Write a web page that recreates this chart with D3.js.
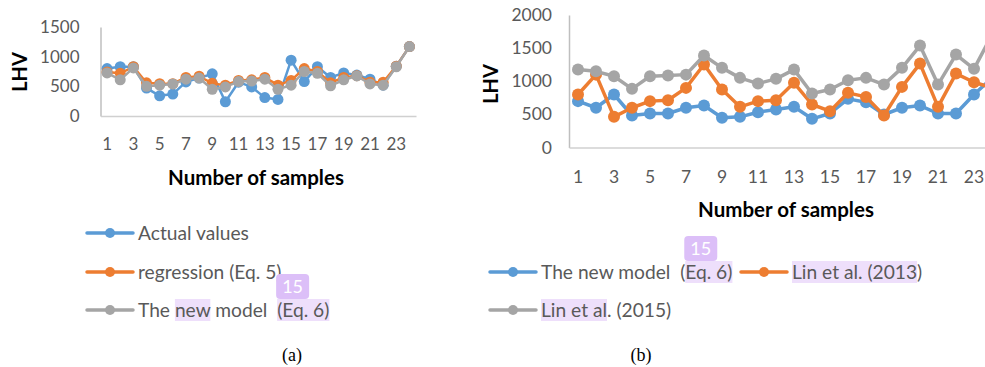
<!DOCTYPE html>
<html><head><meta charset="utf-8">
<script src="https://cdn.jsdelivr.net/npm/d3@7"></script>
<style>
html,body{margin:0;padding:0;background:#fff;overflow:hidden}
svg{display:block}
</style></head><body>
<svg id="fig" width="985" height="367"></svg>
<script>
// sample numbers on the category axis
const samples = d3.range(1, 25);
const sampleTickLabels = samples.filter(d => d % 2 === 1);

// panel (a): LHV values
const actualValues   = [800, 830, 830, 470, 340, 370, 575, 640, 710, 240, 570, 490, 310, 280, 940, 580, 830, 650, 725, 690, 620, 520, 840, 1170];
const regressionEq5  = [740, 720, 830, 560, 545, 545, 650, 670, 550, 520, 600, 610, 650, 520, 600, 800, 750, 560, 650, 680, 570, 570, 840, 1170];
const newModelEq6a   = [725, 610, 810, 500, 520, 540, 620, 640, 450, 490, 580, 590, 620, 450, 520, 750, 720, 510, 610, 675, 540, 520, 830, 1170];
const yTicksA = [0, 500, 1000, 1500];

// panel (b): LHV values
const newModelEq6b = [700, 600, 800, 483, 513, 513, 600, 633, 448, 463, 533, 573, 614, 433, 513, 734, 684, 498, 600, 633, 513, 513, 800, 1050];
const lin2013      = [800, 1100, 463, 600, 700, 713, 900, 1252, 875, 614, 700, 713, 976, 649, 548, 825, 764, 483, 915, 1267, 614, 1116, 985, 900];
const lin2015      = [1176, 1150, 1075, 885, 1075, 1086, 1100, 1388, 1202, 1051, 965, 1036, 1176, 814, 875, 1015, 1051, 950, 1202, 1538, 950, 1403, 1187, 1700];
const yTicksB = [0, 500, 1000, 1500, 2000];

const BLUE = "#5b9bd5", ORANGE = "#ed7d31", GRAY = "#a5a5a5";
const TXT = "#595959";
const HL = "#eedffb", BADGE = "#dcbff8";
const SANS = "Lato, 'Open Sans', sans-serif";

const svg = d3.select("#fig").style("font-family", SANS);

function drawPanel(p) {
  const g = svg.append("g");
  const x = d3.scaleBand().domain(samples).range(p.xRange);
  const cx = d => x(d) + x.bandwidth() / 2;
  const y = d3.scaleLinear().domain(p.yDomain).range(p.yRange);

  // y axis
  g.append("g")
    .attr("transform", `translate(${p.xRange[0]},0)`)
    .call(d3.axisLeft(y).tickValues(p.yTicks).tickFormat(d3.format("d")).tickSize(0).tickPadding(p.yPad))
    .call(a => a.select(".domain").attr("stroke", "#bfbfbf").attr("stroke-width", 1.5))
    .call(a => a.selectAll("text").attr("fill", TXT).attr("font-size", p.tickSize).style("font-family", SANS));

  // x axis
  g.append("g")
    .attr("transform", `translate(0,${p.yRange[0]})`)
    .call(d3.axisBottom(x).tickValues(sampleTickLabels).tickSize(0))
    .call(a => a.select(".domain").attr("stroke", "#d0d0d0").attr("stroke-width", 1.5))
    .call(a => a.selectAll("text").attr("fill", TXT).attr("font-size", p.tickSize)
      .style("font-family", SANS).attr("y", p.xLabelOffset).attr("dy", "0.35em"));

  // series
  const line = d3.line().x((d, i) => cx(samples[i])).y(d => y(d));
  p.series.forEach(s => {
    g.append("path").datum(s.values)
      .attr("fill", "none").attr("stroke", s.color)
      .attr("stroke-width", p.lineWidth).attr("stroke-linejoin", "round")
      .attr("d", line);
    g.selectAll(null).data(s.values).join("circle")
      .attr("cx", (d, i) => cx(samples[i])).attr("cy", d => y(d))
      .attr("r", p.r).attr("fill", s.color);
  });

  // axis titles
  g.append("text").attr("x", p.xTitle[0]).attr("y", p.xTitle[1]).attr("dy", "0.35em")
    .attr("text-anchor", "middle").attr("font-weight", "bold").attr("font-size", 20.5)
    .attr("fill", "#000").text("Number of samples");
  g.append("text").attr("transform", `translate(${p.yTitle[0]},${p.yTitle[1]}) rotate(-90)`)
    .attr("dy", "0.35em").attr("text-anchor", "middle").attr("font-weight", "bold")
    .attr("font-size", 20).attr("fill", "#000").text("LHV");
}

drawPanel({
  xRange: [100.5, 416], yDomain: [0, 1500], yRange: [116, 27], yTicks: yTicksA,
  yPad: 21, tickSize: 17, xLabelOffset: 28, lineWidth: 2.5, r: 5.5,
  xTitle: [256, 178], yTitle: [20, 72],
  series: [
    {values: actualValues, color: BLUE},
    {values: regressionEq5, color: ORANGE},
    {values: newModelEq6a, color: GRAY}
  ]
});

drawPanel({
  xRange: [569, 1001], yDomain: [0, 2000], yRange: [147.5, 15], yTicks: yTicksB,
  yPad: 17, tickSize: 17.5, xLabelOffset: 29, lineWidth: 3.5, r: 6,
  xTitle: [786, 210], yTitle: [491, 84],
  series: [
    {values: newModelEq6b, color: BLUE},
    {values: lin2013, color: ORANGE},
    {values: lin2015, color: GRAY}
  ]
});

// legend entries, with highlighted character ranges
function legendItem(x0, yc, color, label, marks) {
  const g = svg.append("g");
  const hl = g.append("g");
  g.append("line").attr("x1", x0).attr("x2", x0 + 46).attr("y1", yc).attr("y2", yc)
    .attr("stroke", color).attr("stroke-width", 3.5).attr("stroke-linecap", "round");
  g.append("circle").attr("cx", x0 + 23).attr("cy", yc).attr("r", 5).attr("fill", color);
  const t = g.append("text").attr("x", x0 + 51).attr("y", yc).attr("dy", "0.35em")
    .attr("font-size", 19.2).attr("fill", TXT).style("white-space", "pre").text(label);
  const node = t.node();
  (marks || []).forEach(m => {
    const sx = node.getStartPositionOfChar(m[0]).x;
    const w = node.getSubStringLength(m[0], m[1] - m[0]);
    hl.append("rect").attr("x", sx).attr("y", yc - 11).attr("width", w).attr("height", 22).attr("fill", HL);
    if (m[2]) {
      hl.append("rect").attr("x", sx - 1).attr("y", yc - 36).attr("width", 33).attr("height", 25)
        .attr("rx", 4).attr("fill", BADGE);
      hl.append("text").attr("x", sx + 15.5).attr("y", yc - 23.5).attr("dy", "0.35em")
        .attr("text-anchor", "middle").attr("font-size", 18).attr("fill", "#fff").text(m[2]);
    }
  });
}

// panel (a) legend
legendItem(87, 233, BLUE, "Actual values");
legendItem(87, 272, ORANGE, "regression (Eq. 5)");
legendItem(87, 310, GRAY, "The new model  (Eq. 6)", [[4, 7], [15, 22, "15"]]);

// panel (b) legend
legendItem(490, 272, BLUE, "The new model  (Eq. 6)", [[16, 22, "15"]]);
legendItem(741, 272, ORANGE, "Lin et al. (2013)", [[0, 16]]);
legendItem(490, 310, GRAY, "Lin et al. (2015)", [[0, 9]]);

// sub-figure captions
const SERIF = "'Liberation Serif', 'DejaVu Serif', serif";
svg.append("text").attr("x", 292).attr("y", 355).attr("dy", "0.35em").attr("text-anchor", "middle")
  .style("font-family", SERIF).attr("font-size", 18).attr("fill", "#000").text("(a)");
svg.append("text").attr("x", 641).attr("y", 355).attr("dy", "0.35em").attr("text-anchor", "middle")
  .style("font-family", SERIF).attr("font-size", 18).attr("fill", "#000").text("(b)");
</script>
</body></html>
